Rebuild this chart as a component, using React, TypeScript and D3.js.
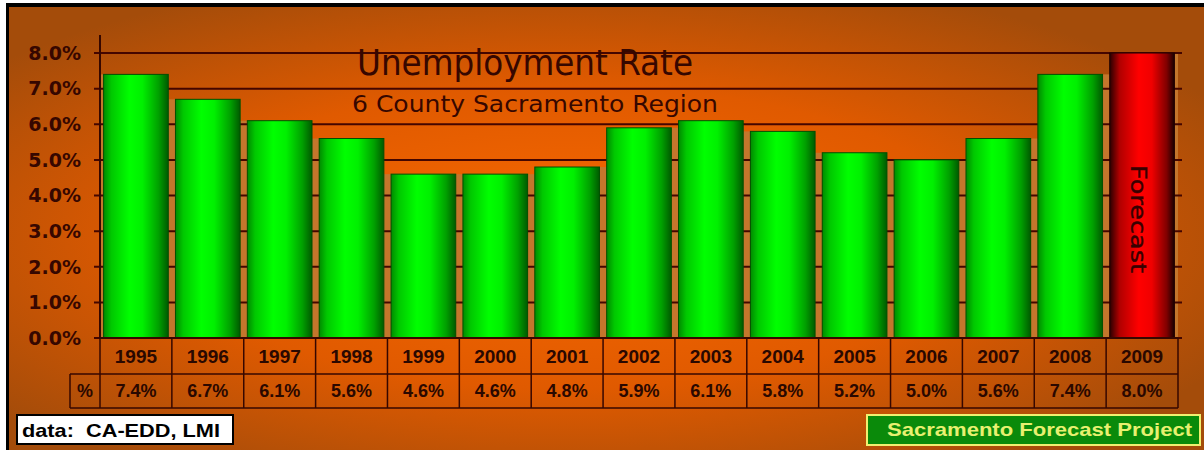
import React from "react";
import * as d3 from "d3";

const years = ["1995","1996","1997","1998","1999","2000","2001","2002","2003","2004","2005","2006","2007","2008","2009"];
const rates = [7.4, 6.7, 6.1, 5.6, 4.6, 4.6, 4.8, 5.9, 6.1, 5.8, 5.2, 5.0, 5.6, 7.4, 8.0];
const rateLabels = ["7.4%","6.7%","6.1%","5.6%","4.6%","4.6%","4.8%","5.9%","6.1%","5.8%","5.2%","5.0%","5.6%","7.4%","8.0%"];
const forecastYear = "2009";
const yTicks = [0, 1, 2, 3, 4, 5, 6, 7, 8];
const title = "Unemployment Rate";
const subtitle = "6 County Sacramento Region";
const sourceNote = "data:  CA-EDD, LMI";
const credit = "Sacramento Forecast Project";

const W = 1204, H = 450;
const X0 = 100, X1 = 1178, Y0 = 338, Y8 = 53;
const DARK = "#360700";
const GAP = "#c4762c";

export default function App() {
  const y = d3.scaleLinear().domain([0, 8]).range([Y0, Y8]);
  const x = d3.scaleBand<string>().domain(years).range([X0, X1]).paddingInner(0.1).paddingOuter(0.05);
  const cell = d3.scaleBand<string>().domain(years).range([X0, X1]).padding(0);
  const row1 = Y0, row2 = 374, row3 = 408;

  const gaps: { x0: number; x1: number; top: number }[] = [];
  years.forEach((yr, i) => {
    const xs = x(yr)!;
    const xe = xs + x.bandwidth();
    const prevEnd = i === 0 ? X0 : x(years[i - 1])! + x.bandwidth();
    const prevTop = i === 0 ? y(rates[i]) : y(rates[i - 1]);
    gaps.push({ x0: prevEnd, x1: xs, top: Math.max(prevTop, y(rates[i])) });
    if (i === years.length - 1) gaps.push({ x0: xe, x1: X1, top: y(rates[i]) });
  });

  return (
    <svg width={W} height={H} style={{ position: "absolute", left: 0, top: 0, background: "#fff" }}>
      <defs>
        <radialGradient id="bg" cx="0.47" cy="0.52" r="0.62">
          <stop offset="0" stopColor="#f86800" />
          <stop offset="0.55" stopColor="#e05a00" />
          <stop offset="1" stopColor="#a44c0a" />
        </radialGradient>
        <linearGradient id="gbar" x1="0" x2="1" y1="0" y2="0">
          <stop offset="0" stopColor="#008a00" />
          <stop offset="0.12" stopColor="#00c800" />
          <stop offset="0.4" stopColor="#00ff00" />
          <stop offset="0.6" stopColor="#00f000" />
          <stop offset="0.85" stopColor="#00a000" />
          <stop offset="1" stopColor="#005a00" />
        </linearGradient>
        <linearGradient id="rbar" x1="0" x2="1" y1="0" y2="0">
          <stop offset="0" stopColor="#2a0000" />
          <stop offset="0.15" stopColor="#b00000" />
          <stop offset="0.45" stopColor="#ff0000" />
          <stop offset="0.65" stopColor="#f00000" />
          <stop offset="0.88" stopColor="#800000" />
          <stop offset="1" stopColor="#180000" />
        </linearGradient>
      </defs>
      <rect x={6} y={3} width={W - 6} height={H - 3} fill="#000" />
      <rect x={9} y={7} width={W - 9} height={H - 7} fill="url(#bg)" />

      {gaps.map((g, i) => (
        <rect key={"gap" + i} x={g.x0} y={g.top} width={Math.max(0, g.x1 - g.x0)} height={Y0 - g.top} fill={GAP} />
      ))}

      {yTicks.map((t) => (
        <line key={"g" + t} x1={X0 - 6} x2={X1 + 4} y1={y(t)} y2={y(t)} stroke="#440600" strokeWidth={2} />
      ))}
      <line x1={X0} x2={X0} y1={35} y2={Y0} stroke={DARK} strokeWidth={2} />
      {yTicks.map((t) => (
        <text key={"t" + t} x={81} y={y(t)} dy="0.36em" textAnchor="end" fontFamily="DejaVu Sans" fontWeight="bold" fontSize={19} fill={DARK}>
          {t.toFixed(1) + "%"}
        </text>
      ))}

      {years.map((yr, i) => (
        <rect key={"b" + yr} x={x(yr)} y={y(rates[i])} width={x.bandwidth()} height={Y0 - y(rates[i])}
          fill={yr === forecastYear ? "url(#rbar)" : "url(#gbar)"}
          stroke={yr === forecastYear ? "#200000" : "#005000"} strokeWidth={1} />
      ))}
      <text transform={`translate(${x(forecastYear)! + x.bandwidth() / 2 - 11},219) rotate(90)`} textAnchor="middle"
        fontFamily="DejaVu Sans" fontSize={21} fill="#380000" stroke="#380000" strokeWidth={0.4}
        textLength={108} lengthAdjust="spacingAndGlyphs">Forecast</text>

      <text x={525} y={75} textAnchor="middle" fontFamily="DejaVu Sans" fontSize={35} fill={DARK} textLength={336} lengthAdjust="spacingAndGlyphs">{title}</text>
      <text x={535} y={112} textAnchor="middle" fontFamily="DejaVu Sans" fontSize={23} fill={DARK} textLength={366} lengthAdjust="spacingAndGlyphs">{subtitle}</text>

      <g stroke={DARK} strokeWidth={1.5} fill="none">
        <line x1={X0} x2={X1} y1={row1} y2={row1} strokeWidth={2} />
        <line x1={70} x2={X1} y1={row2} y2={row2} />
        <line x1={70} x2={X1} y1={row3} y2={row3} />
        <line x1={70} x2={70} y1={row2} y2={row3} />
        {years.map((yr) => (
          <line key={"v" + yr} x1={cell(yr)} x2={cell(yr)} y1={row1} y2={row3} />
        ))}
        <line x1={X1} x2={X1} y1={row1} y2={row3} />
      </g>
      {years.map((yr, i) => (
        <g key={"c" + yr} fontFamily="Liberation Sans" fontWeight="bold" fill="#2a0800" textAnchor="middle">
          <text x={cell(yr)! + cell.bandwidth() / 2} y={(row1 + row2) / 2} dy="0.36em" fontSize={19}>{yr}</text>
          <text x={cell(yr)! + cell.bandwidth() / 2} y={(row2 + row3) / 2} dy="0.36em" fontSize={18}>{rateLabels[i]}</text>
        </g>
      ))}
      <text x={85} y={(row2 + row3) / 2} dy="0.36em" textAnchor="middle" fontFamily="Liberation Sans" fontWeight="bold" fontSize={18} fill="#2a0800">%</text>

      <rect x={17} y={415} width={216} height={29} fill="#fff" stroke="#000" strokeWidth={2} />
      <text x={22} y={437} xmlSpace="preserve" style={{ whiteSpace: "pre" }} fontFamily="Liberation Sans" fontWeight="bold" fontSize={19} fill="#000" textLength={198} lengthAdjust="spacingAndGlyphs">{sourceNote}</text>

      <rect x={867} y={415} width={333} height={30} fill="#0a8a0a" stroke="#f0f070" strokeWidth={2} />
      <text x={887} y={436} fontFamily="Liberation Sans" fontWeight="bold" fontSize={19} fill="#e8f070" textLength={305} lengthAdjust="spacingAndGlyphs">{credit}</text>
    </svg>
  );
}
